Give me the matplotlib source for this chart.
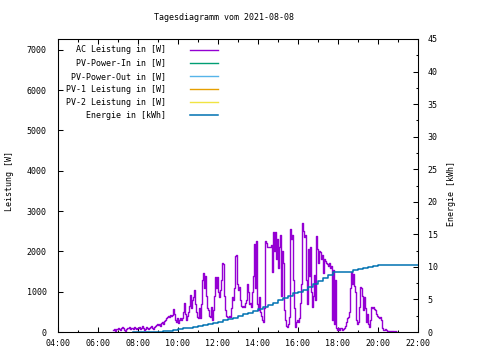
import matplotlib
matplotlib.use("Agg")
import matplotlib.pyplot as plt
import numpy as np
from matplotlib.ticker import MultipleLocator, FuncFormatter

plt.rcParams['font.family'] = 'DejaVu Sans Mono'
plt.rcParams['font.size'] = 6

# AC Leistung [W], one value every 3 minutes starting 06:45
ac_start = 6.75
ac_step = 0.05
h06 = [50, 75, 25, 75, 75]
h07 = [100, 75, 50, 100, 125, 100, 50, 25, 75, 100, 100, 125, 75, 100, 100, 75, 125, 100, 75, 100]
h08 = [100, 125, 75, 100, 150, 100, 50, 75, 125, 100, 75, 100, 125, 150, 100, 75, 125, 150, 175, 200]
h09 = [175, 200, 150, 225, 250, 200, 275, 300, 350, 375, 400, 375, 425, 400, 425, 575, 450, 300, 250, 350]
h10 = [225, 300, 350, 300, 350, 500, 725, 450, 300, 400, 500, 650, 925, 600, 800, 875, 1050, 700, 500, 375]
h11 = [350, 600, 350, 700, 1300, 1475, 1100, 1400, 900, 600, 550, 400, 375, 625, 300, 550, 900, 1375, 1100, 1375]
h12 = [1000, 875, 1050, 1300, 1700, 1675, 900, 550, 400, 375, 375, 400, 375, 600, 875, 800, 1100, 1875, 1900, 1200]
h13 = [1050, 1125, 800, 650, 625, 650, 625, 725, 800, 1200, 1000, 700, 725, 625, 1000, 1400, 2175, 1100, 2250, 700]
h14 = [550, 875, 500, 400, 300, 250, 600, 2250, 2200, 2100, 2100, 2100, 2100, 2150, 1500, 2475, 2000, 2475, 1800, 2300]
h15 = [1600, 2100, 2400, 900, 2000, 1700, 550, 300, 150, 125, 200, 375, 2550, 2300, 2400, 1300, 600, 125, 250, 300]
h16 = [250, 350, 725, 1200, 2700, 2500, 2350, 2400, 1300, 700, 2050, 1400, 2100, 1000, 625, 900, 1425, 800, 2375, 2050]
h17 = [1700, 2000, 1975, 1800, 1900, 1475, 1800, 1750, 1700, 1675, 1650, 1700, 1600, 1650, 300, 1550, 200, 1300, 100, 50]
h18 = [100, 50, 100, 100, 50, 75, 100, 150, 250, 350, 375, 500, 1100, 1500, 1200, 1450, 1150, 1000, 300, 200]
h19 = [250, 625, 1125, 1100, 900, 550, 875, 600, 250, 450, 200, 125, 300, 625, 600, 625, 575, 550, 450, 400]
h20 = [375, 350, 375, 300, 100, 50, 50, 75, 50, 25, 25, 25, 25, 25, 25, 25, 0, 25, 0, 0]
ac_power = h06 + h07 + h08 + h09 + h10 + h11 + h12 + h13 + h14 + h15 + h16 + h17 + h18 + h19 + h20

# Energie [kWh], every 15 minutes starting 07:45
en_start = 7.75
en_step = 0.25
energy = [0.00, 0.00, 0.00, 0.02, 0.03, 0.05, 0.10, 0.20, 0.30, 0.42,
          0.55, 0.68, 0.80, 0.95, 1.10, 1.25, 1.42, 1.60, 1.82, 2.02,
          2.22, 2.45, 2.70, 2.95, 3.25, 3.55, 3.85, 4.15, 4.50, 4.85,
          5.25, 5.55, 5.95, 6.15, 6.45, 6.85, 7.35, 7.80, 8.25, 8.70,
          9.20, 9.20, 9.20, 9.25, 9.50, 9.70, 9.90, 10.05, 10.15, 10.25,
          10.30, 10.35, 10.35, 10.35, 10.35, 10.35, 10.35, 10.35]

# series without data on this day
pv_power_in = []
pv_power_out = []
pv1_power = []
pv2_power = []

labels = ['AC Leistung in [W]', 'PV-Power-In in [W]', 'PV-Power-Out in [W]',
          'PV-1 Leistung in [W]', 'PV-2 Leistung in [W]', 'Energie in [kWh]']
colors = ['#9400D3', '#009E73', '#56B4E9', '#E69F00', '#F0E442', '#0072B2']

ac_time = ac_start + ac_step * np.arange(len(ac_power))
en_time = en_start + en_step * np.arange(len(energy))

fig = plt.figure(figsize=(4.8, 3.6), dpi=100)
ax = fig.add_axes([58 / 480, 28 / 360, 360 / 480, 293 / 360])
ax2 = ax.twinx()

h1, = ax.plot(ac_time, ac_power, color=colors[0], lw=1.0, drawstyle='steps-post', label=labels[0])
h2, = ax.plot(pv_power_in, pv_power_in, color=colors[1], lw=1.0, label=labels[1])
h3, = ax.plot(pv_power_out, pv_power_out, color=colors[2], lw=1.0, label=labels[2])
h4, = ax.plot(pv1_power, pv1_power, color=colors[3], lw=1.0, label=labels[3])
h5, = ax.plot(pv2_power, pv2_power, color=colors[4], lw=1.0, label=labels[4])
h6, = ax2.plot(en_time, energy, color=colors[5], lw=1.1, drawstyle='steps-post', label=labels[5])

ax.set_xlim(4, 22)
ax.set_ylim(0, 7270)
ax2.set_ylim(0, 45)

ax.xaxis.set_major_locator(MultipleLocator(2))
ax.xaxis.set_minor_locator(MultipleLocator(1))
ax.xaxis.set_major_formatter(FuncFormatter(lambda v, p: f"{int(round(v)):02d}:00"))
ax.yaxis.set_major_locator(MultipleLocator(1000))
ax2.yaxis.set_major_locator(MultipleLocator(5))
ax2.yaxis.set_minor_locator(MultipleLocator(2.5))

ax.tick_params(axis='x', which='both', direction='in', top=True, pad=5)
ax.tick_params(axis='x', which='major', length=3.6, width=0.75)
ax.tick_params(axis='x', which='minor', length=1.8, width=0.75)
ax.tick_params(axis='y', which='major', direction='in', length=3.6, width=0.75, pad=8, right=False)
ax2.tick_params(axis='y', which='major', direction='in', length=3.6, width=0.75, pad=7)
ax2.tick_params(axis='y', which='minor', direction='in', length=1.8, width=0.75)
for a in (ax, ax2):
    for s in a.spines.values():
        s.set_linewidth(0.75)

fig.text(223.5 / 480, 1 - 18 / 360, 'Tagesdiagramm vom 2021-08-08', ha='center', va='center')
fig.text(9.5 / 480, 1 - 181 / 360, 'Leistung [W]', rotation=90, ha='center', va='center')
fig.text(452 / 480, 1 - 194 / 360, 'Energie [kWh]', rotation=90, ha='center', va='center')

ax2.legend(handles=[h1, h2, h3, h4, h5, h6], loc='upper right', bbox_to_anchor=(0.444, 0.978),
           frameon=False, markerfirst=False, borderpad=0, borderaxespad=0,
           handlelength=3.36, handletextpad=2.9, labelspacing=0.5)

fig.savefig('out.png', dpi=100)
